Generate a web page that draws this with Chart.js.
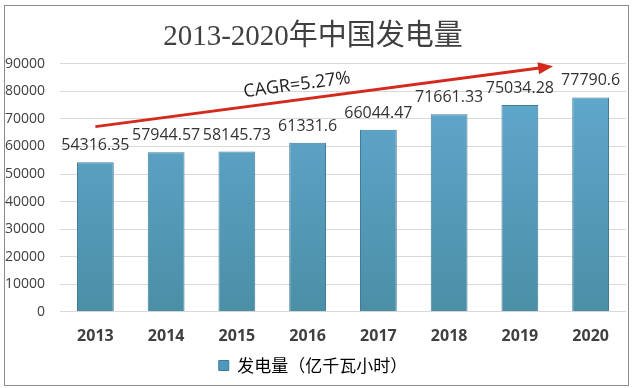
<!DOCTYPE html>
<html>
<head>
<meta charset="utf-8">
<script src="https://cdn.jsdelivr.net/npm/chart.js@4/dist/chart.umd.min.js"></script>
<style>
  body { margin: 0; background: #fff; }
  #wrap { width: 640px; height: 388px; }
</style>
</head>
<body>
<div id="wrap"><canvas id="powerChart" width="640" height="388"></canvas></div>
<script>
const years = ["2013", "2014", "2015", "2016", "2017", "2018", "2019", "2020"];
const output = [54316.35, 57944.57, 58145.73, 61331.6, 66044.47, 71661.33, 75034.28, 77790.6];
const outputLabels = ["54316.35", "57944.57", "58145.73", "61331.6", "66044.47", "71661.33", "75034.28", "77790.6"];
const yTicks = [0, 10000, 20000, 30000, 40000, 50000, 60000, 70000, 80000, 90000];
// trend arrow, in category index / value terms
const arrowFrom = [0, 67200];
const arrowTo = [6.47, 89100];
const cagrText = "CAGR=5.27%";
const cagrAt = [2.85, 82300];

const textColor = "#404040";

const frame = {
  id: "frame",
  beforeDraw(chart) {
    const ctx = chart.ctx;
    ctx.save();
    ctx.fillStyle = "#fff";
    ctx.fillRect(0, 0, chart.width, chart.height);
    ctx.strokeStyle = "#8c8c8c";
    ctx.lineWidth = 1;
    ctx.strokeRect(4.5, 5.5, 624, 380);
    ctx.restore();
  },
};

const valueLabels = {
  id: "valueLabels",
  afterDatasetsDraw(chart) {
    const ctx = chart.ctx;
    const bars = chart.getDatasetMeta(0).data;
    ctx.save();
    ctx.font = "16px 'Open Sans', sans-serif";
    ctx.fillStyle = "#333";
    ctx.textAlign = "center";
    ctx.textBaseline = "alphabetic";
    bars.forEach((bar, i) => {
      ctx.fillText(outputLabels[i], bar.x, bar.y - 12);
    });
    ctx.restore();
  },
};

const trendArrow = {
  id: "trendArrow",
  afterDatasetsDraw(chart) {
    const ctx = chart.ctx;
    const xs = chart.scales.x;
    const ys = chart.scales.y;
    const x1 = xs.getPixelForValue(arrowFrom[0]);
    const y1 = ys.getPixelForValue(arrowFrom[1]);
    const x2 = xs.getPixelForValue(arrowTo[0]);
    const y2 = ys.getPixelForValue(arrowTo[1]);
    const ang = Math.atan2(y2 - y1, x2 - x1);
    const head = 15;
    ctx.save();
    ctx.strokeStyle = "#d42a1e";
    ctx.fillStyle = "#d42a1e";
    ctx.lineWidth = 3;
    ctx.beginPath();
    ctx.moveTo(x1, y1);
    ctx.lineTo(x2 - head * 0.8 * Math.cos(ang), y2 - head * 0.8 * Math.sin(ang));
    ctx.stroke();
    ctx.beginPath();
    ctx.moveTo(x2, y2);
    ctx.lineTo(x2 - head * Math.cos(ang) + 6 * Math.sin(ang), y2 - head * Math.sin(ang) - 6 * Math.cos(ang));
    ctx.lineTo(x2 - head * Math.cos(ang) - 6 * Math.sin(ang), y2 - head * Math.sin(ang) + 6 * Math.cos(ang));
    ctx.closePath();
    ctx.fill();

    const tx = xs.getPixelForValue(cagrAt[0]);
    const ty = ys.getPixelForValue(cagrAt[1]);
    ctx.translate(tx, ty);
    ctx.rotate(ang);
    ctx.font = "18px 'Open Sans', sans-serif";
    ctx.fillStyle = "#222";
    ctx.textAlign = "center";
    ctx.textBaseline = "middle";
    ctx.fillText(cagrText, 0, 0);
    ctx.restore();
  },
};

function barFill(context) {
  const area = context.chart.chartArea;
  if (!area) return "#5aa3c9";
  const g = context.chart.ctx.createLinearGradient(0, area.top, 0, area.bottom);
  g.addColorStop(0, "#62aad2");
  g.addColorStop(1, "#4b8fa6");
  return g;
}

document.addEventListener("DOMContentLoaded", () => {
  const ctx = document.getElementById("powerChart").getContext("2d");
  new Chart(ctx, {
    type: "bar",
    data: {
      labels: years,
      datasets: [
        {
          label: "发电量（亿千瓦小时）",
          data: output,
          backgroundColor: barFill,
          borderColor: "#3f7c96",
          borderWidth: 1,
          borderSkipped: "bottom",
          barPercentage: 0.52,
          categoryPercentage: 1,
        },
      ],
    },
    options: {
      responsive: false,
      animation: false,
      layout: { padding: { left: 0, right: 14, top: 0, bottom: 4 } },
      plugins: {
        title: {
          display: true,
          text: "2013-2020年中国发电量",
          color: textColor,
          font: { family: "'Liberation Serif', 'Noto Sans CJK SC', serif", size: 29, weight: "normal" },
          padding: { top: 20, bottom: 9 },
        },
        legend: {
          position: "bottom",
          labels: {
            color: textColor,
            boxWidth: 10,
            boxHeight: 10,
            padding: 4,
            font: { family: "'Noto Sans CJK SC', sans-serif", size: 17 },
            generateLabels: (chart) => [
              {
                text: chart.data.datasets[0].label,
                fillStyle: "#4f98bd",
                strokeStyle: "#3f7c96",
                lineWidth: 1,
                datasetIndex: 0,
              },
            ],
          },
        },
        tooltip: { enabled: false },
      },
      scales: {
        x: {
          grid: { display: false },
          border: { display: false },
          ticks: {
            color: textColor,
            padding: 7,
            font: { family: "'Open Sans', sans-serif", size: 16, weight: "bold" },
          },
        },
        y: {
          min: 0,
          max: 90000,
          afterFit: (scale) => { scale.width = 60; },
          afterBuildTicks: (scale) => { scale.ticks = yTicks.map((v) => ({ value: v })); },
          grid: { color: "#d9d9d9", drawTicks: false },
          border: { display: false },
          ticks: {
            color: textColor,
            padding: 15,
            font: { family: "'Open Sans', sans-serif", size: 14 },
            callback: (v) => String(v),
          },
        },
      },
    },
    plugins: [frame, valueLabels, trendArrow],
  });
});
</script>
</body>
</html>
